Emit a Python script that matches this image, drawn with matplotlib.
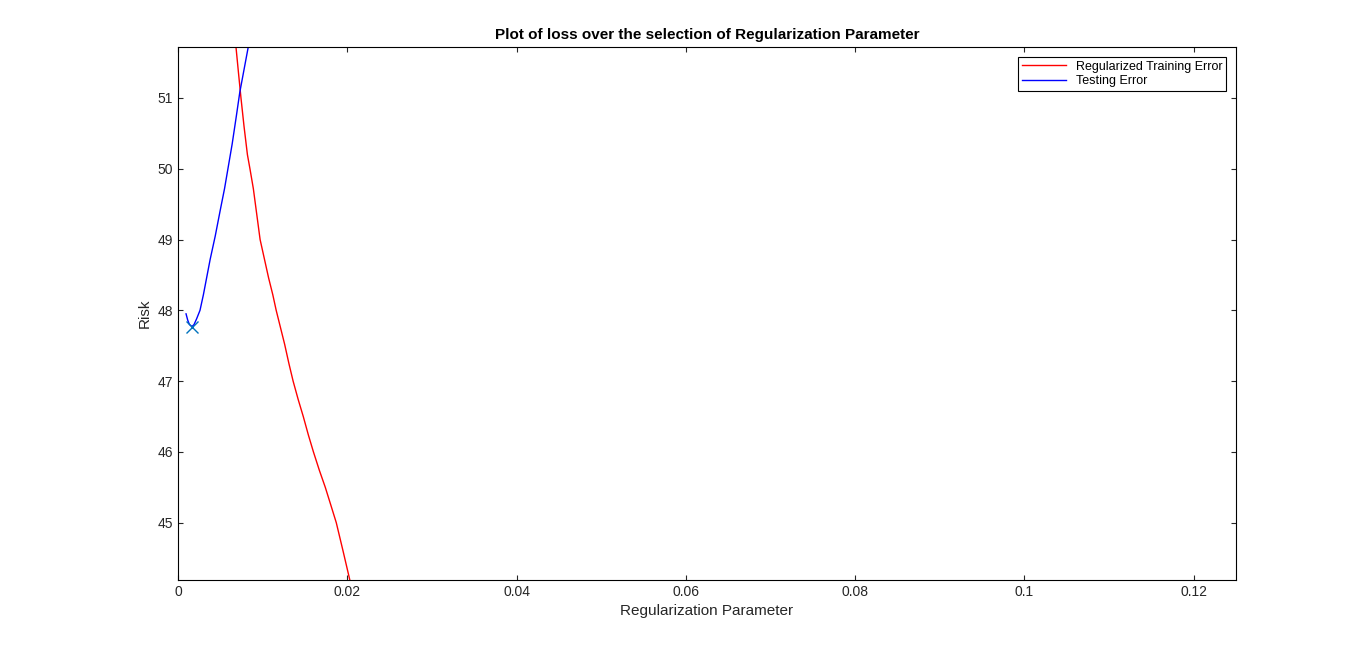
import matplotlib
matplotlib.use('Agg')
import matplotlib.pyplot as plt

train_x = [0.00685, 0.00715, 0.00744, 0.0078, 0.0082, 0.0085, 0.0089, 0.0093, 0.0097, 0.0102, 0.0107,
           0.0112, 0.0116, 0.0121, 0.0126, 0.0131, 0.0136, 0.0142, 0.0148, 0.0154, 0.0160,
           0.0167, 0.0174, 0.0180, 0.0187, 0.0195, 0.0203]
train_y = [51.72, 51.35, 51.0, 50.6, 50.2, 50.0, 49.72, 49.36, 49.0, 48.73, 48.46,
           48.22, 48.0, 47.76, 47.52, 47.25, 47.0, 46.74, 46.5, 46.24, 46.0,
           45.74, 45.5, 45.27, 45.0, 44.6, 44.19]
test_x = [0.00095, 0.00115, 0.00135, 0.00165, 0.0019, 0.0022, 0.0026, 0.0030, 0.0034, 0.0038, 0.0044,
          0.0050, 0.0055, 0.0059, 0.0064, 0.0069, 0.0073, 0.0078, 0.0083]
test_y = [47.95, 47.86, 47.8, 47.77, 47.8, 47.88, 48.0, 48.22, 48.47, 48.72, 49.05,
          49.42, 49.72, 50.0, 50.35, 50.75, 51.08, 51.4, 51.72]
min_x, min_y = 0.00165, 47.77

plt.rcParams['font.family'] = ['Liberation Sans', 'DejaVu Sans']
fig = plt.figure(figsize=(13.66, 6.52), dpi=100)
ax = fig.add_axes([178/1366, 1-580/652, (1236-178)/1366, (580-47)/652])
ax.plot(train_x, train_y, color='red', lw=1, label='Regularized Training Error')
ax.plot(test_x, test_y, color='blue', lw=1, label='Testing Error')
ax.plot([min_x], [min_y], 'x', color='#0072BD', ms=9, mew=1)
ax.set_xlim(0, 0.125)
ax.set_ylim(44.19, 51.72)
ax.set_xticks([0, 0.02, 0.04, 0.06, 0.08, 0.1, 0.12])
ax.set_xticklabels(['0', '0.02', '0.04', '0.06', '0.08', '0.1', '0.12'])
ax.set_yticks([45, 46, 47, 48, 49, 50, 51])
ax.tick_params(direction='in', top=True, right=True, labelsize=10, colors='#262626')
ax.set_xlabel('Regularization Parameter', fontsize=11, color='#262626')
ax.set_ylabel('Risk', fontsize=11, color='#262626')
ax.set_title('Plot of loss over the selection of Regularization Parameter', fontsize=11, fontweight='bold')
leg = ax.legend(loc='upper right', fontsize=9, fancybox=False, edgecolor='black', framealpha=1,
                handlelength=3.5, borderaxespad=0.8, borderpad=0.3, labelspacing=0.2)
leg.get_frame().set_linewidth(0.8)
fig.savefig('out.png', dpi=100)
